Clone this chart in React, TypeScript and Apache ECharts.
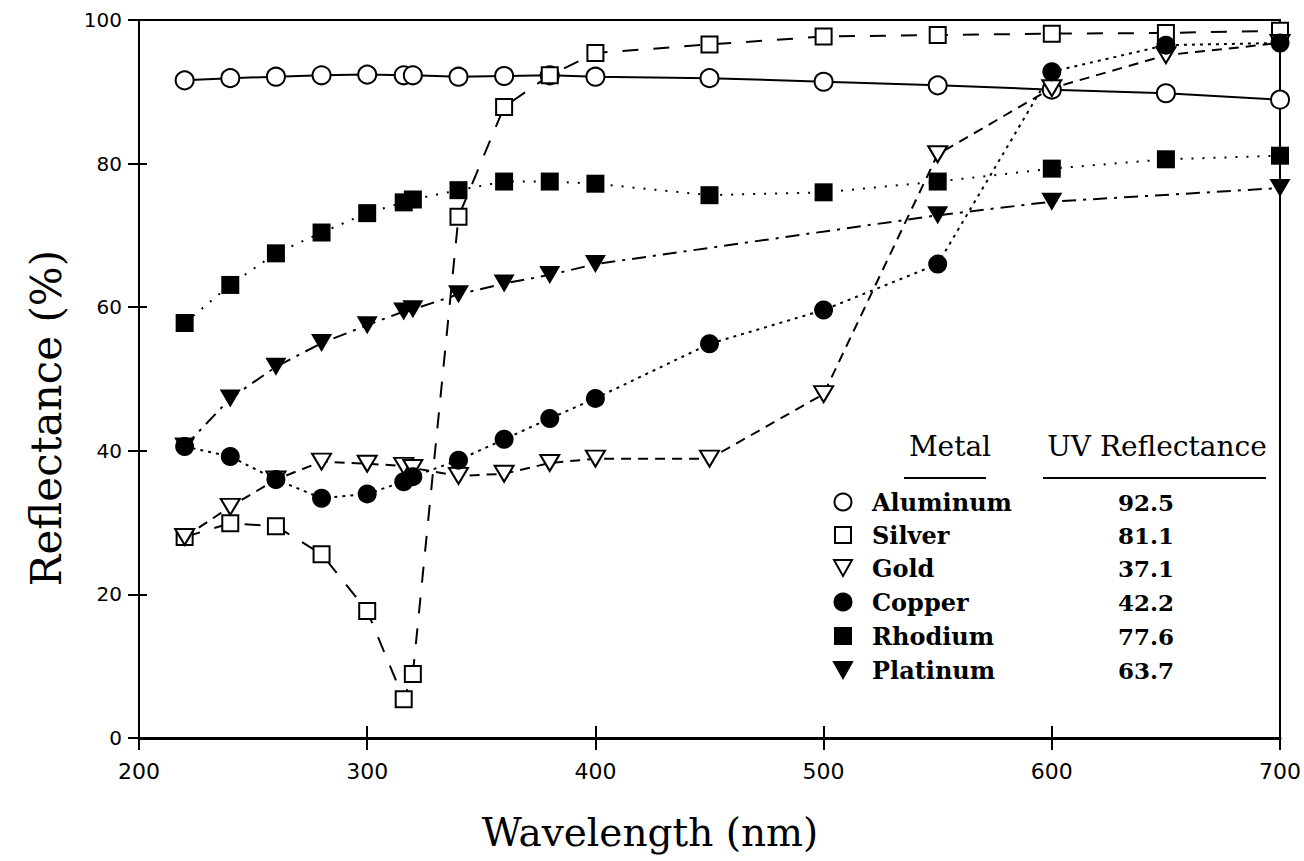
import React, { useEffect, useRef } from "react";
import * as echarts from "echarts";

// ---- data ----
const wavelengths = [220, 240, 260, 280, 300, 316, 320, 340, 360, 380, 400, 450, 500, 550, 600, 650, 700];
const aluminum = [91.6, 91.9, 92.1, 92.3, 92.4, 92.3, 92.3, 92.1, 92.2, 92.3, 92.1, 91.9, 91.4, 90.9, 90.3, 89.8, 88.9];
const silver = [28.0, 29.9, 29.5, 25.6, 17.7, 5.4, 8.9, 72.6, 87.9, 92.3, 95.4, 96.6, 97.7, 97.9, 98.1, 98.2, 98.5];
const gold = [28.0, 32.2, 36.0, 38.5, 38.2, 37.9, 37.6, 36.5, 36.8, 38.3, 38.9, 38.9, 47.9, 81.3, 90.5, 95.1, 96.8];
const copper = [40.6, 39.2, 36.0, 33.4, 34.0, 35.7, 36.4, 38.7, 41.6, 44.5, 47.3, 54.9, 59.6, 66.0, 92.8, 96.5, 96.8];
const rhodium = [57.8, 63.1, 67.5, 70.4, 73.1, 74.6, 75.0, 76.3, 77.5, 77.5, 77.2, 75.6, 76.0, 77.5, 79.3, 80.6, 81.1];
const platinum = [40.6, 47.3, 51.7, 55.0, 57.5, 59.4, 59.7, 61.8, 63.3, 64.5, 66.0, null, null, 72.8, 74.7, null, 76.6];

const metals = ["Aluminum", "Silver", "Gold", "Copper", "Rhodium", "Platinum"];
const uvReflectance = ["92.5", "81.1", "37.1", "42.2", "77.6", "63.7"];
const seriesValues = [aluminum, silver, gold, copper, rhodium, platinum];

const xTitle = "Wavelength (nm)";
const yTitle = "Reflectance (%)";
const legendHeaders = ["Metal", "UV Reflectance"];

// ---- styles ----
type Sty = { symbol: string; size: number | number[]; rotate: number; filled: boolean; dash: number[] | "solid" };
const styles: Sty[] = [
  { symbol: "circle", size: 18, rotate: 0, filled: false, dash: "solid" },
  { symbol: "rect", size: 16, rotate: 0, filled: false, dash: [16, 15] },
  { symbol: "triangle", size: [19, 16], rotate: 180, filled: false, dash: [10, 7] },
  { symbol: "circle", size: 19, rotate: 0, filled: true, dash: [3, 5] },
  { symbol: "rect", size: 18, rotate: 0, filled: true, dash: [2, 9] },
  { symbol: "triangle", size: [21, 18], rotate: 180, filled: true, dash: [14, 7, 3, 7] },
];

const SERIF = "'DejaVu Serif', 'Liberation Serif', serif";
const SANS = "'DejaVu Sans', 'Liberation Sans', sans-serif";

function legendSymbol(i: number, cx: number, cy: number): any {
  const s = styles[i];
  const style = { fill: s.filled ? "#000" : "#fff", stroke: "#000", lineWidth: 2 };
  if (s.symbol === "circle") return { type: "circle", shape: { cx, cy, r: 8.5 }, style };
  if (s.symbol === "rect") return { type: "rect", shape: { x: cx - 8, y: cy - 8, width: 16, height: 16 }, style };
  return {
    type: "polygon",
    shape: { points: [[cx - 9, cy - 8], [cx + 9, cy - 8], [cx, cy + 8]] },
    style,
  };
}

export default function App() {
  const ref = useRef<HTMLDivElement>(null);
  useEffect(() => {
    const chart = echarts.init(ref.current!, null, { renderer: "svg" });

    const series = metals.map((name, i) => {
      const s = styles[i];
      return {
        name,
        type: "line",
        xAxisIndex: 0,
        yAxisIndex: 0,
        connectNulls: true,
        symbol: s.symbol,
        symbolSize: s.size,
        symbolRotate: s.rotate,
        showSymbol: true,
        z: 3,
        itemStyle: {
          color: s.filled ? "#000" : "#fff",
          borderColor: "#000",
          borderWidth: s.filled ? 0 : 2,
          opacity: 1,
        },
        lineStyle: { color: "#000", width: 2, type: s.dash },
        data: wavelengths.map((w, k) => [w, seriesValues[i][k] == null ? "-" : seriesValues[i][k]]),
      };
    });

    const rowsY = [502, 535, 568, 602, 636, 670];
    const graphic: any[] = [
      {
        type: "text",
        x: 650,
        y: 832,
        style: { text: xTitle, fontFamily: SERIF, fontSize: 39, fill: "#000", align: "center", verticalAlign: "middle" },
      },
      {
        type: "text",
        x: 46,
        y: 418,
        rotation: Math.PI / 2,
        style: { text: yTitle, fontFamily: SERIF, fontSize: 42, fill: "#000", align: "center", verticalAlign: "middle" },
      },
      {
        type: "text",
        x: 950,
        y: 446,
        style: { text: legendHeaders[0], fontFamily: SERIF, fontSize: 28, fill: "#000", align: "center", verticalAlign: "middle" },
      },
      {
        type: "text",
        x: 1157,
        y: 446,
        style: { text: legendHeaders[1], fontFamily: SERIF, fontSize: 28, fill: "#000", align: "center", verticalAlign: "middle" },
      },
      { type: "line", shape: { x1: 904, y1: 478, x2: 986, y2: 478 }, style: { stroke: "#000", lineWidth: 2 } },
      { type: "line", shape: { x1: 1043, y1: 478, x2: 1266, y2: 478 }, style: { stroke: "#000", lineWidth: 2 } },
    ];
    metals.forEach((name, i) => {
      graphic.push(legendSymbol(i, 843, rowsY[i]));
      graphic.push({
        type: "text",
        x: 872,
        y: rowsY[i],
        style: { text: name, fontFamily: SERIF, fontSize: 24, fontWeight: "bold", fill: "#000", align: "left", verticalAlign: "middle" },
      });
      graphic.push({
        type: "text",
        x: 1146,
        y: rowsY[i],
        style: { text: uvReflectance[i], fontFamily: SERIF, fontSize: 23, fontWeight: "bold", fill: "#000", align: "center", verticalAlign: "middle" },
      });
    });

    const option: any = {
      animation: false,
      backgroundColor: "#fff",
      grid: {
        left: 139,
        right: 17,
        top: 20,
        bottom: 123,
        show: true,
        borderColor: "#000",
        borderWidth: 2,
        backgroundColor: "transparent",
      },
      xAxis: [
        {
          type: "value",
          min: 200,
          max: 700,
          interval: 100,
          axisLine: { show: true, onZero: false, lineStyle: { color: "#000", width: 3 } },
          axisTick: { show: true, length: 12, lineStyle: { color: "#000", width: 2 } },
          axisLabel: { margin: 22, fontFamily: SANS, fontSize: 22, color: "#000" },
          splitLine: { show: false },
        },
        {
          type: "value",
          min: 200,
          max: 700,
          interval: 100,
          position: "bottom",
          axisLine: { show: false },
          axisTick: { show: true, inside: true, length: 12, lineStyle: { color: "#000", width: 2 } },
          axisLabel: { show: false },
          splitLine: { show: false },
        },
      ],
      yAxis: [
        {
          type: "value",
          min: 0,
          max: 100,
          interval: 20,
          axisLine: { show: true, onZero: false, lineStyle: { color: "#000", width: 2 } },
          axisTick: { show: true, length: 11, lineStyle: { color: "#000", width: 2 } },
          axisLabel: { margin: 17, fontFamily: SANS, fontSize: 20, color: "#000" },
          splitLine: { show: false },
        },
        {
          type: "value",
          min: 0,
          max: 100,
          interval: 20,
          position: "left",
          axisLine: { show: false },
          axisTick: { show: true, inside: true, length: 8, lineStyle: { color: "#000", width: 2 } },
          axisLabel: { show: false },
          splitLine: { show: false },
        },
      ],
      series,
      graphic,
    };
    chart.setOption(option);
    return () => chart.dispose();
  }, []);
  return (
    <div
      ref={ref}
      style={{ position: "fixed", left: 0, top: 0, width: 1304, height: 861, background: "#fff" }}
    />
  );
}
